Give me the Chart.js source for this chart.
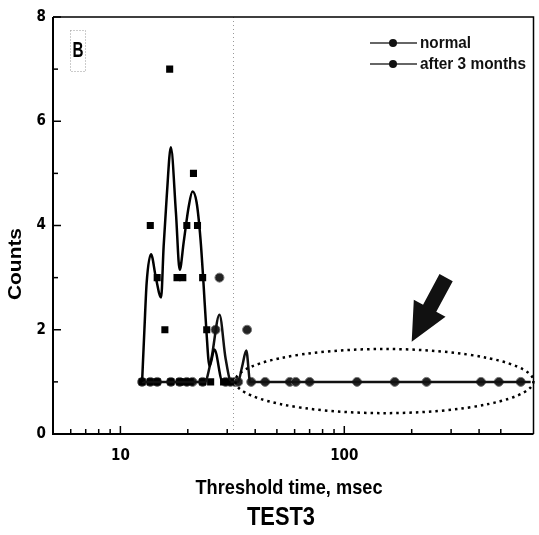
<!DOCTYPE html>
<html>
<head>
<meta charset="utf-8">
<script src="https://cdn.jsdelivr.net/npm/chart.js@4/dist/chart.umd.min.js"></script>
<style>
  html, body { margin: 0; padding: 0; background: #fff; }
</style>
</head>
<body>
<canvas id="chart" width="539" height="535"></canvas>
<script>
const FONT = "'Liberation Sans', Arial, sans-serif";
const TICK_FONT = "'DejaVu Sans Condensed', 'Liberation Sans Narrow', sans-serif";

// measured counts, normal group (squares)
const normalTimes = [12.5, 13.6, 13.6, 14.6, 14.6, 15.8, 16.6, 16.8, 17.9, 18.4, 19.0, 19.2, 19.8, 20.5, 21.2, 22.1, 23.3, 23.3, 24.3, 25.3, 28.9, 31.0];
const normalCounts = [1, 1, 4, 1, 3, 2, 7, 1, 3, 1, 3, 1, 4, 1, 5, 4, 3, 1, 2, 1, 1, 1];

// measured counts, after 3 months (circles)
const afterTimes = [12.5, 13.6, 14.6, 16.8, 18.4, 19.8, 21.0, 23.3, 26.6, 27.7, 29.5, 31.0, 32.5, 33.6, 36.8, 38.4, 44.3, 57.1, 60.7, 70.0, 114, 168, 233, 408, 490, 614];
const afterCounts = [1, 1, 1, 1, 1, 1, 1, 1, 2, 3, 1, 1, 1, 1, 2, 1, 1, 1, 1, 1, 1, 1, 1, 1, 1, 1];

// smoothed curves
const normalCurveTimes = [12.5, 12.8, 13.1, 13.7, 14.4, 15.2, 15.6, 16.1, 16.8, 17.7, 18.4, 19.2, 20.2, 21.0, 21.9, 22.8, 23.5, 24.2, 25.0, 26.3, 28.6, 31.0];
const normalCurveCounts = [1.0, 2.0, 2.9, 3.45, 3.0, 2.62, 3.6, 4.55, 5.5, 4.25, 3.15, 3.7, 4.37, 4.65, 4.44, 3.73, 2.9, 2.0, 1.3, 1.62, 1.0, 1.0];

const afterCurveTimes = [12.5, 23.8, 25.5, 27.7, 29.5, 31.3, 33.5, 35.0, 36.5, 38.0, 40.0, 680];
const afterCurveCounts = [1.0, 1.0, 1.45, 2.29, 1.45, 1.0, 1.0, 1.3, 1.6, 1.0, 1.0, 1.0];

const xTickValues = [6, 7, 8, 9, 10, 20, 30, 40, 50, 60, 70, 80, 90, 100, 200, 300, 400, 500];
const xLabelValues = [10, 100];
const yLabelValues = [0, 2, 4, 6, 8];
const markerLine = 32;

function toPoints(xs, ys) {
  return xs.map((x, i) => ({ x: x, y: ys[i] }));
}

// draw text squeezed horizontally to a given width (condensed look)
function fitText(ctx, text, x, y, width, font, align) {
  ctx.save();
  ctx.font = font;
  const w = ctx.measureText(text).width;
  const k = width / w;
  ctx.textBaseline = "middle";
  ctx.textAlign = "left";
  const left = align === "left" ? x : x - width / 2;
  ctx.translate(left, y);
  ctx.scale(k, 1);
  ctx.fillText(text, 0, 0);
  ctx.restore();
}

const framePlugin = {
  id: "frame",
  beforeDatasetsDraw(chart) {
    const ctx = chart.ctx;
    const a = chart.chartArea;
    const xs = chart.scales.x;
    // dotted vertical marker
    ctx.save();
    ctx.strokeStyle = "#999";
    ctx.lineWidth = 1;
    ctx.setLineDash([1, 3]);
    const mx = Math.round(xs.getPixelForValue(markerLine)) + 0.5;
    ctx.beginPath();
    ctx.moveTo(mx, a.top);
    ctx.lineTo(mx, a.bottom);
    ctx.stroke();
    ctx.restore();
  },
  afterDraw(chart) {
    const ctx = chart.ctx;
    const a = chart.chartArea;
    const xs = chart.scales.x;
    const ys = chart.scales.y;
    ctx.save();
    // frame
    ctx.strokeStyle = "#000";
    ctx.lineWidth = 2;
    ctx.beginPath();
    ctx.moveTo(a.left, a.top);
    ctx.lineTo(a.left, a.bottom);
    ctx.lineTo(a.right, a.bottom);
    ctx.stroke();
    ctx.lineWidth = 1.5;
    ctx.beginPath();
    ctx.moveTo(a.left, a.top);
    ctx.lineTo(a.right, a.top);
    ctx.lineTo(a.right, a.bottom);
    ctx.stroke();

    // inward ticks
    ctx.lineWidth = 1.5;
    for (let v = 0; v <= 8; v++) {
      const py = ys.getPixelForValue(v);
      const len = v % 2 === 0 ? 8 : 5;
      ctx.beginPath();
      ctx.moveTo(a.left, py);
      ctx.lineTo(a.left + len, py);
      ctx.stroke();
    }
    xTickValues.forEach((v) => {
      const px = xs.getPixelForValue(v);
      const len = xLabelValues.includes(v) ? 8 : 5;
      ctx.beginPath();
      ctx.moveTo(px, a.bottom);
      ctx.lineTo(px, a.bottom - len);
      ctx.stroke();
    });

    // dotted ellipse round the tail of the second series
    const x0 = xs.getPixelForValue(32.6);
    const x1 = xs.getPixelForValue(700);
    const y0 = ys.getPixelForValue(1.63);
    const y1 = ys.getPixelForValue(0.4);
    ctx.lineWidth = 2.5;
    ctx.setLineDash([2.5, 4]);
    ctx.beginPath();
    ctx.ellipse((x0 + x1) / 2, (y0 + y1) / 2, (x1 - x0) / 2, (y1 - y0) / 2, 0, 0, Math.PI * 2);
    ctx.stroke();
    ctx.setLineDash([]);

    // arrow
    const tx = xs.getPixelForValue(200), ty = ys.getPixelForValue(1.77);
    const sx = xs.getPixelForValue(285), sy = ys.getPixelForValue(3.0);
    const dx = tx - sx, dy = ty - sy;
    const L = Math.hypot(dx, dy);
    const ux = dx / L, uy = dy / L, nx = -uy, ny = ux;
    const headLen = 38, headW = 18, shaftW = 7.5;
    const bx = tx - ux * headLen, by = ty - uy * headLen;
    ctx.fillStyle = "#111";
    ctx.beginPath();
    ctx.moveTo(sx + nx * shaftW, sy + ny * shaftW);
    ctx.lineTo(bx + nx * shaftW, by + ny * shaftW);
    ctx.lineTo(bx + nx * headW, by + ny * headW);
    ctx.lineTo(tx, ty);
    ctx.lineTo(bx - nx * headW, by - ny * headW);
    ctx.lineTo(bx - nx * shaftW, by - ny * shaftW);
    ctx.lineTo(sx - nx * shaftW, sy - ny * shaftW);
    ctx.closePath();
    ctx.fill();

    // panel letter
    ctx.strokeStyle = "#999";
    ctx.lineWidth = 1;
    ctx.setLineDash([1, 2]);
    ctx.strokeRect(70.5, 30.5, 15, 41);
    ctx.setLineDash([]);
    ctx.fillStyle = "#000";
    fitText(ctx, "B", 78, 51, 11, "bold 22px " + FONT);

    // legend
    const rows = [
      { label: "normal", y: 43, w: 51 },
      { label: "after 3 months", y: 64, w: 106 }
    ];
    rows.forEach((r) => {
      ctx.strokeStyle = "#333";
      ctx.lineWidth = 1.5;
      ctx.beginPath();
      ctx.moveTo(370, r.y);
      ctx.lineTo(417, r.y);
      ctx.stroke();
      ctx.fillStyle = "#111";
      ctx.beginPath();
      ctx.arc(393, r.y, 4, 0, Math.PI * 2);
      ctx.fill();
      fitText(ctx, r.label, 420, r.y, r.w, "bold 17px " + FONT, "left");
    });

    // axis titles
    ctx.fillStyle = "#000";
    fitText(ctx, "Threshold time, msec", 289, 488, 187, "bold 21px " + FONT);
    fitText(ctx, "TEST3", 281, 518, 68, "bold 25px " + FONT);
    ctx.save();
    ctx.translate(16, 264);
    ctx.rotate(-Math.PI / 2);
    fitText(ctx, "Counts", 0, 0, 72, "bold 19px " + FONT);
    ctx.restore();
    ctx.restore();
  }
};

const ctx = document.getElementById("chart").getContext("2d");

new Chart(ctx, {
  type: "scatter",
  data: {
    datasets: [
      {
        label: "normal",
        data: toPoints(normalCurveTimes, normalCurveCounts),
        showLine: true,
        borderColor: "#000",
        borderWidth: 2.5,
        pointRadius: 0,
        cubicInterpolationMode: "monotone"
      },
      {
        label: "after 3 months",
        data: toPoints(afterCurveTimes, afterCurveCounts),
        showLine: true,
        borderColor: "#111",
        borderWidth: 2.5,
        pointRadius: 0,
        cubicInterpolationMode: "monotone"
      },
      {
        label: "normal points",
        data: toPoints(normalTimes, normalCounts),
        pointStyle: "rect",
        pointRadius: 5,
        backgroundColor: "#000",
        borderColor: "#000",
        borderWidth: 0
      },
      {
        label: "after points",
        data: toPoints(afterTimes, afterCounts),
        pointStyle: "circle",
        pointRadius: 4.5,
        backgroundColor: "#222",
        borderColor: "#777",
        borderWidth: 1
      }
    ]
  },
  options: {
    responsive: false,
    animation: false,
    layout: { padding: { top: 17, right: 2, left: 0, bottom: 0 } },
    plugins: {
      legend: { display: false },
      tooltip: { enabled: false }
    },
    scales: {
      x: {
        type: "logarithmic",
        min: 5,
        max: 700,
        grid: { display: false, drawTicks: false },
        border: { display: false },
        afterBuildTicks: (scale) => {
          scale.ticks = xTickValues.map((v) => ({ value: v }));
        },
        afterFit: (scale) => { scale.height = 101; },
        ticks: {
          autoSkip: false,
          maxRotation: 0,
          padding: 13,
          color: "#000",
          font: { family: TICK_FONT, size: 15, weight: "bold" },
          callback: (v) => (xLabelValues.includes(v) ? String(v) : "")
        }
      },
      y: {
        min: 0,
        max: 8,
        grid: { display: false, drawTicks: false },
        border: { display: false },
        afterBuildTicks: (scale) => {
          scale.ticks = yLabelValues.map((v) => ({ value: v }));
        },
        afterFit: (scale) => { scale.width = 53; },
        ticks: {
          padding: 7,
          color: "#000",
          font: { family: TICK_FONT, size: 15, weight: "bold" }
        }
      }
    }
  },
  plugins: [framePlugin]
});
</script>
</body>
</html>
